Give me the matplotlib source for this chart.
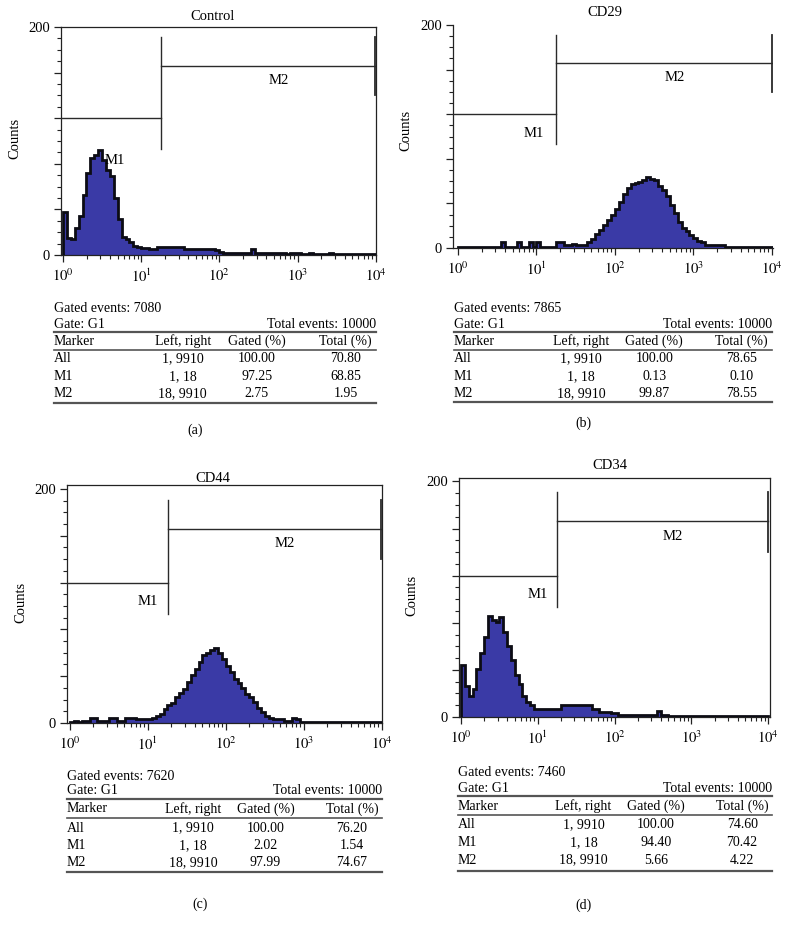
import numpy as np
import matplotlib
matplotlib.use("Agg")
import matplotlib.pyplot as plt
from matplotlib.lines import Line2D
from matplotlib.ticker import FixedLocator, NullFormatter, FuncFormatter

plt.rcParams['font.family'] = ['Liberation Serif', 'DejaVu Serif']
plt.rcParams['mathtext.fontset'] = 'stix'

# ---------------- data ----------------
titles = ["Control", "CD29", "CD44", "CD34"]
panel_letters = ["(a)", "(b)", "(c)", "(d)"]

# histogram channels: 20 bins per decade from 10^0 to 10^4
log_bin_edges = np.linspace(0, 4, 81)

counts_control = [38, 15, 14, 24, 34, 53, 72, 85, 88, 92, 83, 75, 69, 50, 32, 16, 14, 11, 8, 7,
                  6, 6, 5, 5, 7, 7, 7, 7, 7, 7, 7, 5, 5, 5, 5, 5, 5, 5, 5, 4,
                  3, 2, 2, 2, 2, 2, 2, 2, 5, 2, 2, 2, 2, 2, 2, 2, 2, 1, 2, 2,
                  2, 1, 1, 2, 1, 1, 1, 1, 2, 1, 1, 1, 1, 1, 1, 1, 1, 1, 1, 1]
counts_cd29 = [1, 1, 1, 1, 1, 1, 1, 1, 1, 1, 1, 5, 1, 1, 1, 5, 1, 1, 5, 1,
               5, 1, 1, 1, 1, 5, 5, 3, 3, 4, 3, 3, 3, 5, 8, 13, 16, 21, 25, 30,
               35, 41, 48, 54, 57, 58, 59, 61, 64, 62, 61, 56, 52, 47, 39, 31, 23, 18, 15, 12,
               9, 6, 5, 3, 3, 3, 3, 3, 1, 1, 1, 1, 1, 1, 1, 1, 1, 1, 1, 1]
counts_cd44 = [1, 2, 1, 2, 2, 4, 4, 2, 2, 2, 4, 4, 2, 2, 4, 4, 4, 3, 3, 3,
               3, 4, 6, 8, 12, 15, 17, 22, 26, 29, 35, 41, 46, 52, 58, 60, 62, 64, 60, 55,
               49, 44, 38, 34, 30, 25, 22, 18, 13, 9, 6, 4, 3, 3, 3, 2, 2, 4, 3, 1,
               1, 1, 1, 1, 1, 1, 1, 1, 1, 1, 1, 1, 1, 1, 1, 1, 1, 1, 1, 1]
counts_cd34 = [44, 26, 18, 24, 41, 54, 68, 86, 82, 81, 85, 72, 60, 48, 36, 28, 18, 13, 10, 7,
               7, 7, 7, 7, 7, 7, 10, 10, 10, 10, 10, 10, 10, 10, 7, 7, 4, 4, 4, 3,
               3, 2, 2, 2, 2, 2, 2, 2, 2, 2, 2, 5, 2, 2, 1, 1, 1, 1, 1, 1,
               1, 1, 1, 1, 1, 1, 1, 1, 1, 1, 1, 1, 1, 1, 1, 1, 1, 1, 1, 1]
all_counts = [counts_control, counts_cd29, counts_cd44, counts_cd34]

gated_events = [7080, 7865, 7620, 7460]
total_events = 10000
gate_name = "G1"
markers = ["All", "M1", "M2"]
left_right = [(1, 9910), (1, 18), (18, 9910)]
gated_pct = [["100.00", "97.25", "2.75"],
             ["100.00", "0.13", "99.87"],
             ["100.00", "2.02", "97.99"],
             ["100.00", "94.40", "5.66"]]
total_pct = [["70.80", "68.85", "1.95"],
             ["78.65", "0.10", "78.55"],
             ["76.20", "1.54", "74.67"],
             ["74.60", "70.42", "4.22"]]
header = ["Marker", "Left, right", "Gated (%)", "Total (%)"]

# ---------------- layout (pixels) ----------------
W, H = 789, 927
fig = plt.figure(figsize=(W / 100, H / 100), dpi=100)


def fx(px):
    return px / W


def fy(py):
    return 1 - py / H


axes_px = [
    dict(l=61, r=376, t=27, b=255, xl=(-0.026, 4.003), ytop=200, box=True,
         title=(213, 16), ylab=(15, 138), m1lab=(0.66, 83)),
    dict(l=453, r=773, t=25, b=248, xl=(-0.064, 4.015), ytop=200, box=False,
         title=(605, 13), ylab=(406, 130), m1lab=(0.96, 103)),
    dict(l=67, r=382, t=485, b=723, xl=(-0.039, 4.005), ytop=203.4, box=True,
         title=(213, 478), ylab=(21, 602), m1lab=(1.0, 104)),
    dict(l=459, r=770, t=478, b=717, xl=(-0.026, 4.023), ytop=202.9, box=True,
         title=(610, 465), ylab=(412, 595), m1lab=(1.0, 104)),
]

tables_px = [
    dict(x0=54, x1=376, ys=[309, 324, 332, 341.5, 350, 359, 376.5, 393.5, 403], lab=(195, 430)),
    dict(x0=454, x1=772, ys=[308, 324, 332, 341.5, 350, 359, 376.5, 393.5, 402], lab=(583, 423)),
    dict(x0=67, x1=382, ys=[776, 790, 799, 809, 818, 828, 845.5, 863, 872], lab=(200, 904)),
    dict(x0=458, x1=772, ys=[772, 788, 796, 806, 815, 825, 842.5, 860, 871], lab=(583, 905)),
]

fill_color = '#3a3aa6'
edge_color = '#0c0c14'
gate_color = '#2a2a2a'
fs_text = 10.5
fs_table = 10

m1_level, m2_level = 120, 166
div_lo, div_hi = 93, 191
end_lo = 140

edges = 10 ** log_bin_edges

for i in range(4):
    p = axes_px[i]
    ax = fig.add_axes([fx(p['l']), fy(p['b']), fx(p['r'] - p['l']), (p['b'] - p['t']) / H])
    ax.set_xscale('log')
    ax.set_xlim(10 ** p['xl'][0], 10 ** p['xl'][1])
    ax.set_ylim(0, p['ytop'])
    vals = np.array(all_counts[i], dtype=float)
    ax.stairs(vals, edges, fill=True, color=fill_color, zorder=2)
    ax.stairs(vals, edges, color=edge_color, lw=2.0, zorder=3)

    # gates
    m1_right = left_right[1][1]
    m2_left, m2_right = left_right[2]
    ax.plot([10 ** p['xl'][0], m1_right], [m1_level, m1_level], color=gate_color, lw=1.0, zorder=4)
    ax.plot([m1_right, m1_right], [div_lo, div_hi], color=gate_color, lw=1.0, zorder=4)
    ax.plot([m2_left, m2_right], [m2_level, m2_level], color=gate_color, lw=1.0, zorder=4)
    ax.plot([m2_right, m2_right], [end_lo, div_hi], color=gate_color, lw=1.3, zorder=4)
    ax.text(10 ** 2.76, 153, markers[2], ha='center', va='center', fontsize=fs_text, zorder=5)
    ax.text(10 ** p['m1lab'][0], p['m1lab'][1], markers[1], ha='center', va='center',
            fontsize=fs_text, zorder=5)

    # ticks
    ax.yaxis.set_major_locator(FixedLocator([0, 40, 80, 120, 160, 200]))
    ax.yaxis.set_minor_locator(FixedLocator([v for v in range(0, 201, 10) if v % 40]))
    ax.yaxis.set_major_formatter(FuncFormatter(lambda v, pos: f"{int(v)}" if v in (0, 200) else ""))
    ax.xaxis.set_major_locator(FixedLocator([1, 10, 100, 1000, 10000]))
    ax.xaxis.set_major_formatter(FuncFormatter(lambda v, pos: r"$10^{%d}$" % round(np.log10(v))))
    ax.xaxis.set_minor_locator(FixedLocator([m * 10 ** d for d in range(4) for m in range(2, 10)]))
    ax.xaxis.set_minor_formatter(NullFormatter())
    ax.tick_params(axis='both', which='major', direction='out', length=5, width=0.9,
                   labelsize=10.5, color='#222', pad=3)
    ax.tick_params(axis='both', which='minor', direction='out', length=3, width=0.8, color='#222')
    ax.tick_params(axis='x', which='major', pad=4)
    for s in ax.spines.values():
        s.set_color('#222')
        s.set_linewidth(0.9)
    if not p['box']:
        ax.spines['top'].set_visible(False)
        ax.spines['right'].set_visible(False)
    ax.set_facecolor('white')

    fig.text(fx(p['title'][0]), fy(p['title'][1]), titles[i], ha='center', va='center', fontsize=fs_text)
    fig.text(fx(p['ylab'][0]), fy(p['ylab'][1]), "Counts", ha='center', va='center',
             rotation=90, fontsize=fs_text)

    # table
    t = tables_px[i]
    x0, x1 = t['x0'], t['x1']
    Wt = x1 - x0
    ys = t['ys']
    fig.text(fx(x0), fy(ys[0]), f"Gated events: {gated_events[i]}", ha='left', va='center', fontsize=fs_table)
    fig.text(fx(x0), fy(ys[1]), f"Gate: {gate_name}", ha='left', va='center', fontsize=fs_table)
    fig.text(fx(x1), fy(ys[1]), f"Total events: {total_events}", ha='right', va='center', fontsize=fs_table)
    for yl, lw in ((ys[2], 1.6), (ys[4], 1.2), (ys[8], 1.6)):
        fig.add_artist(Line2D([fx(x0), fx(x1)], [fy(yl), fy(yl)], color='#555', lw=lw))
    col_x = [x0, x0 + 0.40 * Wt, x0 + 0.63 * Wt, x0 + 0.905 * Wt]
    col_ha = ['left', 'center', 'center', 'center']
    for c in range(4):
        fig.text(fx(col_x[c]), fy(ys[3]), header[c], ha=col_ha[c], va='center', fontsize=fs_table)
    for r in range(3):
        yy = fy(ys[5 + r])
        row = [markers[r], f"{left_right[r][0]}, {left_right[r][1]}", gated_pct[i][r], total_pct[i][r]]
        for c in range(4):
            fig.text(fx(col_x[c]), yy, row[c], ha=col_ha[c], va='center', fontsize=fs_table)
    fig.text(fx(t['lab'][0]), fy(t['lab'][1]), panel_letters[i], ha='center', va='center', fontsize=fs_table)

fig.savefig("out.png", dpi=100, facecolor='white')
